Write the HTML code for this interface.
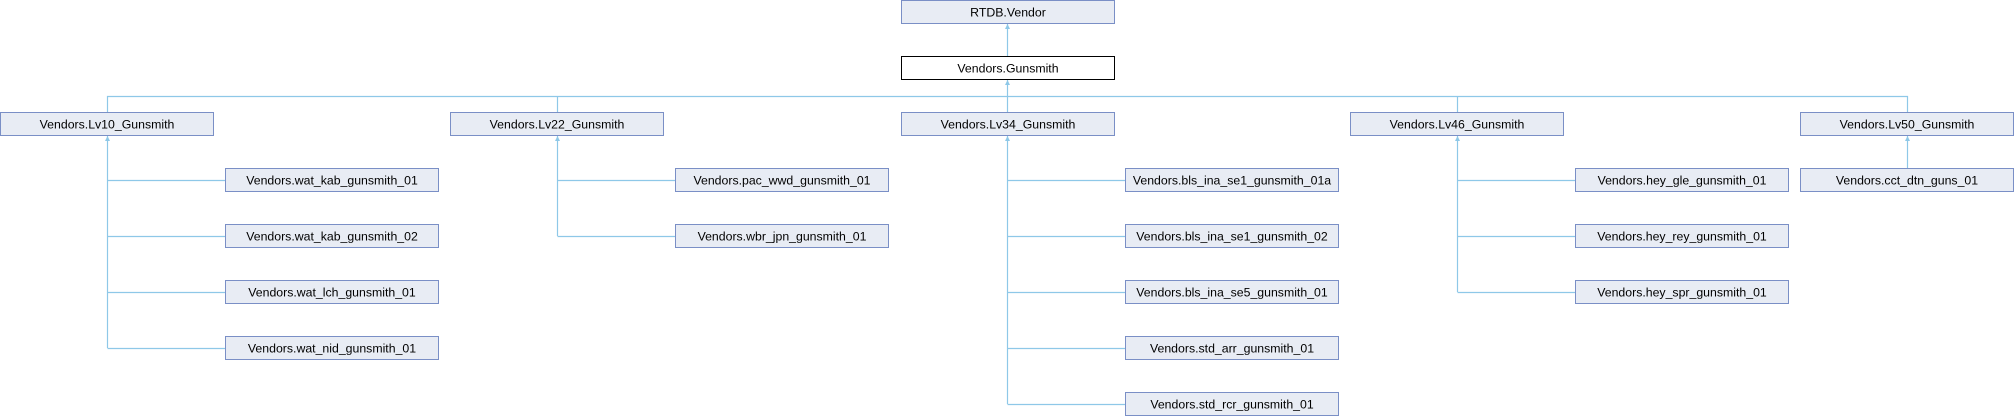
<!DOCTYPE html>
<html><head><meta charset="utf-8"><style>
html,body{margin:0;padding:0;background:#fff;}
svg{display:block;}
text{font-family:"Liberation Sans",Arial,sans-serif;font-size:12.3px;fill:#000;}
</style></head><body>
<svg width="2015" height="416" viewBox="0 0 2015 416" xmlns="http://www.w3.org/2000/svg">
<defs>
<marker id="a" markerWidth="6" markerHeight="6" refX="3" refY="0" orient="0" markerUnits="userSpaceOnUse"><path d="M0.5,5 L3,0 L5.5,5 Z" fill="#8ec8e8"/></marker>
</defs>
<g stroke="#8ec8e8" stroke-width="1.2" fill="none">
<line x1="1007.5" y1="56" x2="1007.5" y2="24" marker-end="url(#a)"/>
<line x1="1007.5" y1="112" x2="1007.5" y2="80" marker-end="url(#a)"/>
<path d="M107.5,112 V96.5 H1907.5 V112"/>
<line x1="557.5" y1="96.5" x2="557.5" y2="112"/>
<line x1="1457.5" y1="96.5" x2="1457.5" y2="112"/>
<line x1="107.5" y1="348" x2="107.5" y2="136" marker-end="url(#a)"/>
<path d="M107.5,180.5 H225 M107.5,236.5 H225 M107.5,292.5 H225 M107.5,348.5 H225"/>
<line x1="557.5" y1="236" x2="557.5" y2="136" marker-end="url(#a)"/>
<path d="M557.5,180.5 H675 M557.5,236.5 H675"/>
<line x1="1007.5" y1="404" x2="1007.5" y2="136" marker-end="url(#a)"/>
<path d="M1007.5,180.5 H1125 M1007.5,236.5 H1125 M1007.5,292.5 H1125 M1007.5,348.5 H1125 M1007.5,404.5 H1125"/>
<line x1="1457.5" y1="292" x2="1457.5" y2="136" marker-end="url(#a)"/>
<path d="M1457.5,180.5 H1575 M1457.5,236.5 H1575 M1457.5,292.5 H1575"/>
<line x1="1907.5" y1="168" x2="1907.5" y2="136" marker-end="url(#a)"/>
</g>
<g fill="#e8ecf4" stroke="#7a8fc6" stroke-width="1">
<rect x="901.5" y="0.5" width="213" height="23"/>
<rect x="0.5" y="112.5" width="213" height="23"/>
<rect x="450.5" y="112.5" width="213" height="23"/>
<rect x="901.5" y="112.5" width="213" height="23"/>
<rect x="1350.5" y="112.5" width="213" height="23"/>
<rect x="1800.5" y="112.5" width="213" height="23"/>
<rect x="225.5" y="168.5" width="213" height="23"/>
<rect x="225.5" y="224.5" width="213" height="23"/>
<rect x="225.5" y="280.5" width="213" height="23"/>
<rect x="225.5" y="336.5" width="213" height="23"/>
<rect x="675.5" y="168.5" width="213" height="23"/>
<rect x="675.5" y="224.5" width="213" height="23"/>
<rect x="1125.5" y="168.5" width="213" height="23"/>
<rect x="1125.5" y="224.5" width="213" height="23"/>
<rect x="1125.5" y="280.5" width="213" height="23"/>
<rect x="1125.5" y="336.5" width="213" height="23"/>
<rect x="1125.5" y="392.5" width="213" height="23"/>
<rect x="1575.5" y="168.5" width="213" height="23"/>
<rect x="1575.5" y="224.5" width="213" height="23"/>
<rect x="1575.5" y="280.5" width="213" height="23"/>
<rect x="1800.5" y="168.5" width="213" height="23"/>
</g>
<rect x="901.5" y="56.5" width="213" height="23" fill="#fff" stroke="#000" stroke-width="1"/>
<g text-anchor="middle">
<text x="1008" y="16.5">RTDB.Vendor</text>
<text x="1008" y="72.5">Vendors.Gunsmith</text>
<text x="107" y="128.5">Vendors.Lv10_Gunsmith</text>
<text x="557" y="128.5">Vendors.Lv22_Gunsmith</text>
<text x="1008" y="128.5">Vendors.Lv34_Gunsmith</text>
<text x="1457" y="128.5">Vendors.Lv46_Gunsmith</text>
<text x="1907" y="128.5">Vendors.Lv50_Gunsmith</text>
<text x="332" y="184.5">Vendors.wat_kab_gunsmith_01</text>
<text x="332" y="240.5">Vendors.wat_kab_gunsmith_02</text>
<text x="332" y="296.5">Vendors.wat_lch_gunsmith_01</text>
<text x="332" y="352.5">Vendors.wat_nid_gunsmith_01</text>
<text x="782" y="184.5">Vendors.pac_wwd_gunsmith_01</text>
<text x="782" y="240.5">Vendors.wbr_jpn_gunsmith_01</text>
<text x="1232" y="184.5">Vendors.bls_ina_se1_gunsmith_01a</text>
<text x="1232" y="240.5">Vendors.bls_ina_se1_gunsmith_02</text>
<text x="1232" y="296.5">Vendors.bls_ina_se5_gunsmith_01</text>
<text x="1232" y="352.5">Vendors.std_arr_gunsmith_01</text>
<text x="1232" y="408.5">Vendors.std_rcr_gunsmith_01</text>
<text x="1682" y="184.5">Vendors.hey_gle_gunsmith_01</text>
<text x="1682" y="240.5">Vendors.hey_rey_gunsmith_01</text>
<text x="1682" y="296.5">Vendors.hey_spr_gunsmith_01</text>
<text x="1907" y="184.5">Vendors.cct_dtn_guns_01</text>
</g>
</svg>
</body></html>
